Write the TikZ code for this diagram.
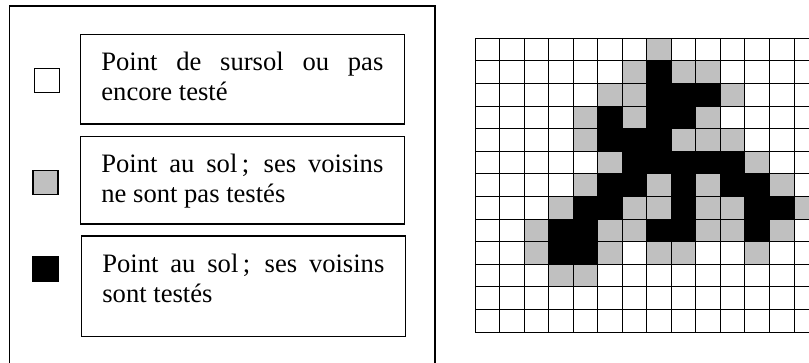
\documentclass[tikz,border=0pt]{standalone}
\usepackage{fontspec}
\setmainfont{Liberation Serif}
\usepackage{tikz}
\usetikzlibrary{positioning}
\definecolor{Ink}{HTML}{000000}
\definecolor{CellGray}{HTML}{C0C0C0}

\begin{document}
\begin{tikzpicture}[
  x=1pt,y=-1pt,
  frame/.style={draw=Ink,line width=1.2pt},
  box/.style={draw=Ink,line width=1.4pt,rectangle,inner sep=0pt,outer sep=0pt,minimum width=324pt},
  txt/.style={inner sep=0pt,text width=282pt,align=justify,font=\fontsize{26.6}{30}\selectfont,
    execute at begin node={\hyphenpenalty=10000\tolerance=9999}},
  key/.style={draw=Ink,line width=1.2pt,inner sep=0pt,minimum width=25pt,minimum height=24.5pt},
  gridline/.style={draw=Ink,line width=0.9pt}
]
\useasboundingbox (0,0) rectangle (809,363);
\draw[frame] (9.3,363) -- (9.3,6) -- (435,6) -- (435,363);

\node[box,minimum height=89.7pt] (b1) at (242.5,79.2) {};
\node[box,minimum height=87.3pt] (b2) at (242.5,180.3) {};
\node[box,minimum height=100.7pt] (b3) at (243.5,286.3) {};

\node[txt,below right=17.5pt and 20.7pt of b1.north west] (t1) {Point de sursol ou pas\linebreak encore testé};
\node[txt,below right=17.5pt and 20.7pt of b2.north west] (t2) {Point au sol\,; ses voisins\linebreak ne sont pas testés};
\node[txt,below right=17.5pt and 20.7pt of b3.north west] (t3) {Point au sol\,; ses voisins\linebreak sont testés};

\node[key,fill=white] (kwhite) at (47.2,80.5) {};
\node[key,fill=CellGray] (kgray) at (45.5,182.5) {};
\node[key,fill=Ink] (kblack) at (45.5,268.9) {};

\begin{scope}
\clip (470,30) rectangle (809,340);
\foreach \r/\cols in {0/{8},1/{7,9,10},2/{6,7,11},3/{5,7,10},4/{5,9,10,11},5/{6,12},
  6/{5,8,10,13},7/{4,7,8,10,11,14},8/{3,6,7,10,11,13},9/{3,6,8,9,12},10/{4,5}}
  \foreach \c in \cols
    \fill[CellGray] ({475+(\c-1)*24.54},{38.3+\r*22.6}) rectangle ++(24.54,22.6);
\foreach \r/\cols in {1/{8},2/{8,9,10},3/{6,8,9},4/{6,7,8},5/{7,8,9,10,11},
  6/{6,7,9,11,12},7/{5,6,9,12,13},8/{4,5,8,9,12},9/{4,5}}
  \foreach \c in \cols
    \fill[Ink] ({475+(\c-1)*24.54},{38.3+\r*22.6}) rectangle ++(24.54,22.6);
\foreach \i in {0,...,14}
  \draw[gridline] ({475+\i*24.54},38.3) -- ++(0,293.8);
\foreach \j in {0,...,13}
  \draw[gridline] (475,{38.3+\j*22.6}) -- (818.6,{38.3+\j*22.6});
\end{scope}
\end{tikzpicture}
\end{document}
